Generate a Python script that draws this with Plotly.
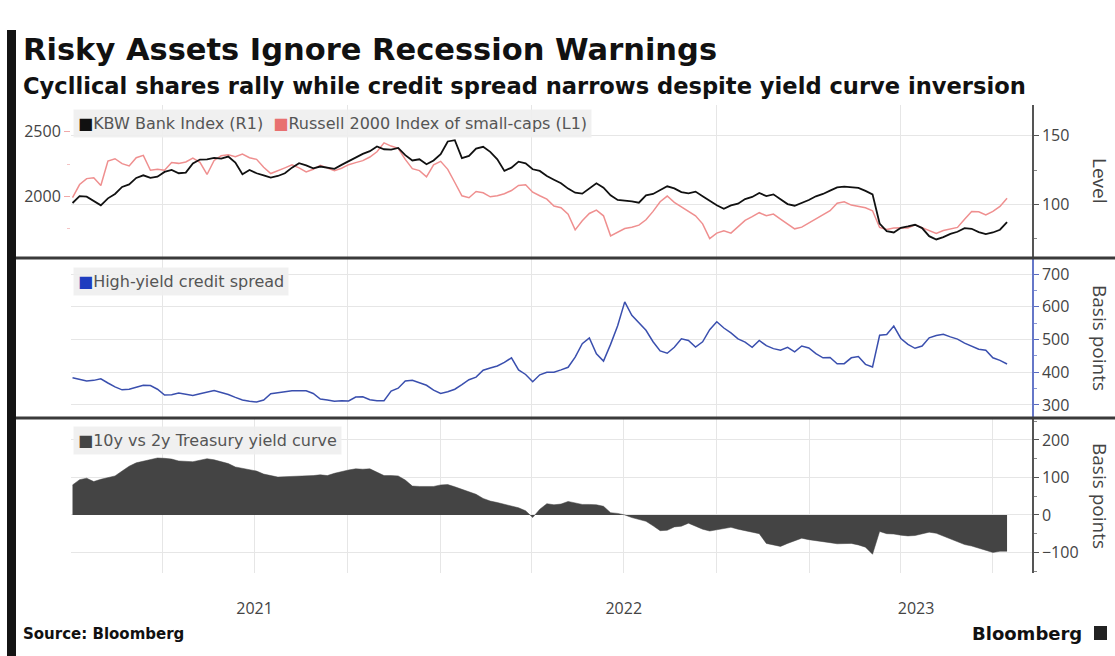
import pandas as pd
import plotly.graph_objects as go

# ---------------------------------------------------------------- data
# weekly observations, 2 Jan 2021 .. 15 Jul 2023
dates = pd.date_range("2021-01-02", periods=133, freq="7D")

kbw_bank = [
    101, 106, 105.6, 102.4, 99.3, 104.4, 107.6, 112.7, 114.6, 119.3,
    121.2, 119.3, 120.2, 123.7, 125.1, 122.7, 123.2, 129.8, 132.7, 132.9,
    133.9, 133.4, 134.9, 130.5, 122, 125.1, 122.7, 121.2, 119.5, 120.7,
    122.7, 126.8, 130, 128.5, 126.3, 127.6, 127, 125.9, 128.8, 131.5,
    134.1, 136.8, 138.8, 142.2, 140.2, 140, 141.2, 135.9, 132, 132.9,
    129.3, 132, 136.6, 145.9, 146.8, 133.7, 135.4, 140.7, 142, 138.3,
    132.9, 124.4, 126.8, 131.2, 130, 125.6, 124.4, 120.7, 118, 115.4,
    111.5, 108.5, 107.8, 111.5, 115.4, 112.2, 106.6, 103.2, 102.9, 102.2,
    101.2, 106.6, 107.6, 110.2, 113.2, 111.7, 109, 108, 109.3, 105.9,
    102.7, 99.3, 96.8, 99.3, 100.5, 103.9, 105.4, 108.3, 106.1, 107.3,
    103.7, 100.2, 99, 101, 103.2, 105.9, 107.6, 110, 112.4, 112.9,
    112.2, 112, 109.8, 107.3, 86, 80.5, 79.5, 82.9, 83.9, 85.1,
    82.7, 76.8, 74.4, 76.1, 78.5, 80, 82.7, 82.2, 79.8, 78.3,
    79.5, 81.5, 87,
]

russell_2000 = [
    1990, 2092, 2138, 2144, 2085, 2274, 2292, 2254, 2236, 2300,
    2318, 2203, 2210, 2203, 2262, 2256, 2267, 2297, 2264, 2170,
    2279, 2315, 2323, 2308, 2328, 2300, 2287, 2226, 2177, 2197,
    2221, 2244, 2221, 2190, 2210, 2241, 2223, 2200, 2218, 2246,
    2262, 2277, 2305, 2346, 2415, 2390, 2372, 2287, 2215, 2200,
    2151, 2244, 2272, 2210, 2108, 2005, 1990, 2038, 2028, 1997,
    2005, 2021, 2046, 2085, 2090, 2033, 2005, 1979, 1926, 1912,
    1863, 1741, 1811, 1868, 1894, 1850, 1695, 1726, 1752, 1762,
    1778, 1819, 1884, 1959, 2003, 1954, 1918, 1881, 1850, 1788,
    1674, 1716, 1734, 1716, 1767, 1814, 1843, 1874, 1850, 1863,
    1824, 1788, 1749, 1762, 1793, 1824, 1853, 1889, 1948, 1959,
    1933, 1920, 1912, 1889, 1760, 1744, 1755, 1757, 1755, 1780,
    1757, 1739, 1713, 1736, 1747, 1760, 1824, 1884, 1881, 1856,
    1884, 1923, 1985,
]

hy_spread = [
    383, 378, 373, 375, 380, 367, 355, 346, 348, 354,
    360, 359, 348, 330, 331, 336, 332, 329, 334, 339,
    344, 338, 332, 323, 315, 311, 309, 315, 334, 337,
    340, 343, 343, 343, 335, 318, 315, 311, 313, 312,
    324, 325, 316, 313, 313, 342, 351, 373, 375, 368,
    360, 345, 335, 340, 348, 362, 377, 385, 406, 413,
    419, 430, 444, 407, 393, 371, 392, 400, 400, 407,
    415, 446, 487, 505, 456, 434, 485, 542, 615, 574,
    552, 528, 493, 465, 458, 476, 502, 497, 477, 493,
    530, 554, 535, 520, 502, 492, 476, 497, 481, 472,
    467, 476, 462, 480, 474, 457, 444, 445, 426, 426,
    444, 448, 424, 416, 513, 515, 541, 503, 485, 473,
    480, 505, 512, 516, 508, 501, 489, 480, 470, 467,
    444, 436, 425,
]

curve_10s2s = [
    80, 94, 98, 89, 95, 99, 104, 117, 130, 139,
    144, 149, 152, 151, 149, 144, 144, 142, 146, 150,
    147, 142, 137, 128, 124, 119, 117, 109, 104, 101,
    102, 103, 102, 105, 105, 107, 105, 111, 116, 120,
    123, 122, 123, 114, 105, 105, 104, 93, 77, 76,
    76, 76, 80, 81, 75, 69, 61, 55, 44, 37,
    33, 28, 23, 19, 11, -7, 15, 30, 27, 29,
    36, 32, 28, 28, 27, 23, 6, 4, 0, -7,
    -12, -17, -29, -42, -41, -32, -30, -22, -30, -38,
    -43, -40, -37, -33, -38, -43, -46, -50, -76, -80,
    -84, -76, -68, -62, -66, -68, -71, -74, -77, -76,
    -76, -80, -86, -105, -44, -50, -51, -54, -56, -55,
    -50, -46, -49, -56, -64, -72, -79, -83, -89, -94,
    -100, -97, -97,
]

year_ticks = ["2021-07-01", "2022-07-01", "2023-04-16"]
year_labels = ["2021", "2022", "2023"]

# ---------------------------------------------------------------- layout helpers
W, H = 1115, 656


def fx(px):
    return px / W


def fy(py):
    return 1 - py / H


X_DOMAIN = [fx(71), fx(1032)]
P1 = [fy(257), fy(105)]
P2 = [fy(418), fy(258)]
P3 = [fy(573), fy(419)]

GRID = "#e6e6e6"
TXT = "#444444"
TICK_FONT = dict(family="Open Sans", size=16, color=TXT)

C_KBW = "#111111"
C_RUT = "#ef8f8f"
C_HY = "#3a4fae"
C_CURVE = "#444444"

fig = go.Figure()

fig.add_trace(go.Scatter(
    x=dates, y=russell_2000, mode="lines", xaxis="x2", yaxis="y",
    line=dict(color=C_RUT, width=1.5), name="Russell 2000",
))
fig.add_trace(go.Scatter(
    x=dates, y=kbw_bank, mode="lines", xaxis="x2", yaxis="y2",
    line=dict(color=C_KBW, width=1.8), name="KBW Bank Index",
))
fig.add_trace(go.Scatter(
    x=dates, y=hy_spread, mode="lines", xaxis="x3", yaxis="y3",
    line=dict(color=C_HY, width=1.5), name="High-yield credit spread",
))
fig.add_trace(go.Scatter(
    x=dates, y=curve_10s2s, mode="lines", xaxis="x", yaxis="y4",
    fill="tozeroy", fillcolor=C_CURVE,
    line=dict(color=C_CURVE, width=0.5), name="10y vs 2y",
))

minor_grid = dict(tickmode="linear", tick0="2021-01-01", dtick="M3",
                  showgrid=True, gridcolor=GRID, gridwidth=1, ticks="")
x_range = ["2020-12-31 12:00", "2023-08-08 16:00"]

fig.update_layout(
    width=W, height=H,
    margin=dict(l=0, r=0, t=0, b=0),
    paper_bgcolor="white", plot_bgcolor="white",
    showlegend=False,
    xaxis=dict(
        domain=X_DOMAIN, anchor="y4", type="date", range=x_range,
        tickmode="array", tickvals=year_ticks, ticktext=year_labels,
        ticks="", showgrid=False, showline=False, zeroline=False,
        tickfont=TICK_FONT, ticklabelstandoff=24,
        minor=minor_grid,
    ),
    xaxis2=dict(
        domain=X_DOMAIN, anchor="y", matches="x", type="date",
        showticklabels=False, ticks="", showgrid=False, showline=False,
        minor=minor_grid,
    ),
    xaxis3=dict(
        domain=X_DOMAIN, anchor="y3", matches="x", type="date",
        showticklabels=False, ticks="", showgrid=False, showline=False,
        minor=minor_grid,
    ),
    # panel 1, left: Russell 2000
    yaxis=dict(
        domain=P1, anchor="x2", side="left", range=[1531, 2708],
        tick0=0, dtick=500, ticks="outside", ticklen=6, tickcolor="#f0a8a8",
        showgrid=False, zeroline=False, showline=False, tickfont=TICK_FONT,
        minor=dict(tick0=0, dtick=250, ticks="outside", ticklen=3,
                   tickcolor="#f4c4c4", showgrid=False),
    ),
    # panel 1, right: KBW Bank Index
    yaxis2=dict(
        domain=P1, anchor="x2", overlaying="y", side="right",
        range=[61.6, 172.5], tick0=0, dtick=50,
        ticks="outside", ticklen=5, tickcolor="#555555",
        showgrid=True, gridcolor=GRID, zeroline=False,
        showline=True, linecolor="#555555", linewidth=1.5,
        tickfont=TICK_FONT,
        minor=dict(tick0=0, dtick=25, ticks="outside", ticklen=3,
                   tickcolor="#888888", showgrid=False),
    ),
    # panel 2: credit spread
    yaxis3=dict(
        domain=P2, anchor="x3", side="right", range=[260, 749],
        tick0=0, dtick=100, ticks="outside", ticklen=5, tickcolor="#5a6cc0",
        showgrid=True, gridcolor=GRID, zeroline=False,
        showline=True, linecolor="#6677c8", linewidth=1.5,
        tickfont=TICK_FONT,
        minor=dict(tick0=0, dtick=50, ticks="outside", ticklen=3,
                   tickcolor="#8896d4", showgrid=False),
    ),
    # panel 3: yield curve
    yaxis4=dict(
        domain=P3, anchor="x", side="right", range=[-155, 256],
        tick0=0, dtick=100, ticks="outside", ticklen=5, tickcolor="#555555",
        showgrid=True, gridcolor=GRID, zeroline=False,
        showline=True, linecolor="#555555", linewidth=1.5,
        tickfont=TICK_FONT,
        minor=dict(tick0=0, dtick=50, ticks="outside", ticklen=3,
                   tickcolor="#888888", showgrid=False),
    ),
)

# ---------------------------------------------------------------- frame
shapes = [
    dict(type="rect", xref="paper", yref="paper",
         x0=fx(7), x1=fx(16), y0=fy(656), y1=fy(30),
         fillcolor="#141414", line=dict(width=0), layer="above"),
    dict(type="line", xref="paper", yref="paper",
         x0=fx(16), x1=1, y0=fy(258), y1=fy(258),
         line=dict(color="#3a3a3a", width=3), layer="above"),
    dict(type="line", xref="paper", yref="paper",
         x0=fx(16), x1=1, y0=fy(418), y1=fy(418),
         line=dict(color="#3a3a3a", width=3), layer="above"),
    dict(type="rect", xref="paper", yref="paper",
         x0=fx(1094), x1=fx(1107), y0=fy(640), y1=fy(626),
         fillcolor="#222222", line=dict(width=0)),
]
fig.update_layout(shapes=shapes)


def note(text, x, y, size, color=TXT, bold=False, family="DejaVu Sans",
         xanchor="left", angle=0, bg=None):
    if bold:
        text = "<b>" + text + "</b>"
    return dict(
        text=text, x=fx(x), y=fy(y), xref="paper", yref="paper",
        xanchor=xanchor, yanchor="middle", showarrow=False, textangle=angle,
        font=dict(family=family, size=size, color=color),
        bgcolor=bg, borderpad=4,
    )


LEG_BG = "rgba(238,238,238,0.9)"
sq = "<span style='color:{}'>■</span>"

annotations = [
    note("Risky Assets Ignore Recession Warnings", 18, 50, 30.5,
         color="#111111", bold=True),
    note("Cycllical shares rally while credit spread narrows despite yield curve inversion",
         18, 86, 22.6, color="#111111", bold=True),
    note(sq.format(C_KBW) + "KBW Bank Index (R1)  " + sq.format("#e87070")
         + "Russell 2000 Index of small-caps (L1)",
         73, 124, 16, color="#555555", bg=LEG_BG),
    note(sq.format("#1f3dbf") + "High-yield credit spread",
         73, 281, 16, color="#555555", bg=LEG_BG),
    note(sq.format("#444444") + "10y vs 2y Treasury yield curve",
         73, 440, 16, color="#555555", bg=LEG_BG),
    note("Level", 1100, 181, 19, family="Open Sans", xanchor="center", angle=90),
    note("Basis points", 1100, 338, 19, family="Open Sans", xanchor="center", angle=90),
    note("Basis points", 1100, 496, 19, family="Open Sans", xanchor="center", angle=90),
    note("Source: Bloomberg", 18, 634, 15, color="#111111", bold=True),
    note("Bloomberg", 1087, 633, 18, color="#111111", bold=True, xanchor="right"),
]
fig.update_layout(annotations=annotations)

fig.write_html("out.html")
